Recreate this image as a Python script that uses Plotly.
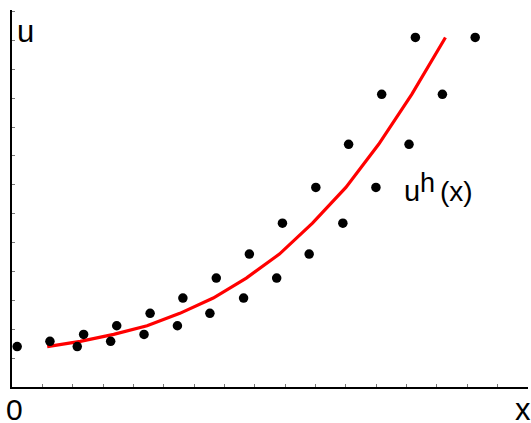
import plotly.graph_objects as go

# Node positions of the discrete solution u^h and its nodal values
node_x = [1.16, 2.25, 3.35, 4.45, 5.53, 6.63, 7.72, 8.81, 9.90, 11.00, 12.08, 13.17, 14.28]
u_vals = [1.40, 1.58, 1.82, 2.12, 2.55, 3.08, 3.77, 4.60, 5.67, 6.91, 8.40, 10.13, 12.10]

# Sample points on either side of each node
left_x = [0.17, 1.25, 2.36, 3.45, 4.55, 5.63, 6.73, 7.82, 8.91, 10.01, 11.09, 12.18, 13.29]
right_x = [2.15, 3.25, 4.35, 5.45, 6.52, 7.63, 8.72, 9.79, 10.90, 11.99, 13.08, 14.18, 15.26]

x_ticks = list(range(0, 18))
y_ticks = list(range(0, 14))

FONT = "Liberation Sans"

fig = go.Figure()

fig.add_trace(go.Scatter(
    x=node_x, y=u_vals, mode="lines",
    line=dict(color="#ff0000", width=3.2),
    hoverinfo="skip",
))

fig.add_trace(go.Scatter(
    x=left_x + right_x, y=u_vals + u_vals, mode="markers",
    marker=dict(color="black", size=9.5, line=dict(width=0)),
    hoverinfo="skip",
))

axis_common = dict(
    showline=True, linecolor="black", linewidth=1.6,
    showgrid=False, zeroline=False,
    ticks="inside", ticklen=3, tickwidth=1, tickcolor="#777777",
    showticklabels=False,
)

fig.update_xaxes(range=[0, 17], tickvals=x_ticks, **axis_common)
fig.update_yaxes(range=[0, 13.05], tickvals=y_ticks, **axis_common)

# Axis labels (paper coordinates so they may sit outside the plot area)
labels = [
    dict(x=0.027, y=0.944, text="u", size=31),
    dict(x=0.005, y=-0.059, text="0", size=30),
    dict(x=0.990, y=-0.060, text="x", size=31),
]
for lab in labels:
    fig.add_annotation(
        x=lab["x"], y=lab["y"], xref="paper", yref="paper", text=lab["text"],
        showarrow=False, xanchor="center", yanchor="middle", borderpad=0,
        font=dict(family=FONT, size=lab["size"], color="black"),
    )

# Curve label u^h(x)
curve_label = [
    dict(x=0.757, y=0.519, text="u", size=29),
    dict(x=0.788, y=0.541, text="h", size=27),
    dict(x=0.828, y=0.519, text="(x)", size=28),
]
for lab in curve_label:
    fig.add_annotation(
        x=lab["x"], y=lab["y"], xref="paper", yref="paper", text=lab["text"],
        showarrow=False, xanchor="left", yanchor="middle", borderpad=0,
        font=dict(family=FONT, size=lab["size"], color="black"),
    )

fig.update_layout(
    width=531, height=423,
    margin=dict(l=12, r=3, t=10, b=36),
    paper_bgcolor="white", plot_bgcolor="white",
    showlegend=False,
)

fig.write_html("out.html")
